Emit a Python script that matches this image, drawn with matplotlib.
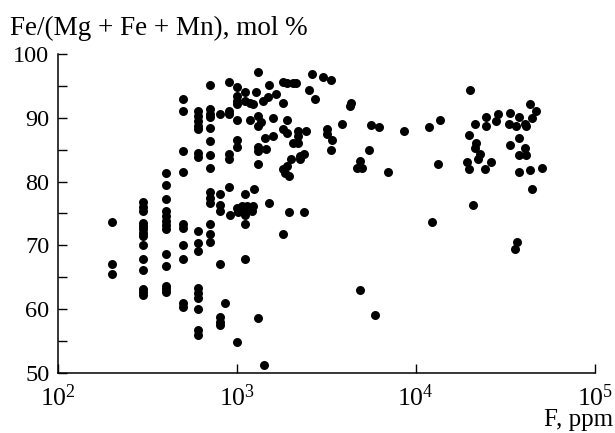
import numpy as np
import matplotlib.pyplot as plt
from matplotlib.ticker import FixedLocator, NullLocator

plt.rcParams['font.family'] = ['Liberation Serif', 'DejaVu Serif']
plt.rcParams['mathtext.fontset'] = 'custom'
plt.rcParams['mathtext.rm'] = 'Liberation Serif'

# F content (ppm) and Fe/(Mg+Fe+Mn) (mol %), grouped by F
f_ppm = np.array(
    [200] * 3 + [300] * 14 + [400] * 13 + [500] * 10 + [605] * 16 + [705] * 14 +
    [808] * 8 + [861, 900, 900, 900, 900, 900, 900, 917] + [1000] * 9 +
    [1022, 1068] + [1112] * 7 + [1140, 1186, 1186, 1214, 1229, 1240, 1256, 1282] +
    [1318] * 7 + [1370, 1407, 1419, 1432, 1450, 1500, 1521, 1521, 1600, 1600, 1656] +
    [1810] * 5 + [1858] + [1901] * 4 + [1963, 1963, 2020, 2070, 2070, 2152] +
    [2207] * 3 + [2255, 2255, 2373, 2373, 2437, 2531, 2618, 2734, 3041, 3175, 3175,
     3358, 3358, 3412, 3853, 4285, 4375, 4670, 4874, 4874, 4977, 5492, 5609, 5950,
     6215, 7018, 8577, 11830, 12390, 13300, 13750, 19330, 19830, 19830, 20000,
     20900, 21330, 21330, 21810, 22230, 22750, 24270, 24550, 24760, 26430, 28180,
     28780, 33140, 33420, 33420, 35660, 36460, 36730, 37670, 37670, 37670, 37670,
     40550, 40550, 41500, 41500, 43750, 43660, 44780, 44780, 46700, 50580])

fe_ratio = np.array(
    [73.7, 67.1, 65.5] +
    [76.8, 76.0, 75.4, 73.5, 73.0, 72.5, 71.9, 71.4, 70.1, 67.9, 66.1, 63.2, 62.7, 62.2] +
    [81.3, 79.4, 77.3, 75.4, 74.6, 73.8, 73.2, 72.5, 68.6, 66.7, 63.6, 63.1, 62.7] +
    [92.9, 91.0, 84.8, 81.5, 73.3, 72.7, 70.1, 67.9, 61.0, 60.4] +
    [91.1, 90.3, 89.5, 88.7, 88.2, 84.5, 83.8, 72.2, 70.4, 69.1, 63.3, 62.5, 61.7,
     60.0, 56.7, 55.9] +
    [95.1, 91.4, 90.6, 90.1, 88.4, 86.4, 84.2, 82.1, 78.3, 77.5, 76.7, 73.3, 71.8, 70.6] +
    [90.6, 78.0, 76.4, 75.4, 67.1, 58.8, 58.0, 57.5] +
    [60.9, 95.7, 91.1, 90.6, 84.3, 83.5, 79.1, 74.7] +
    [94.8, 93.5, 92.7, 92.2, 89.6, 86.5, 85.5, 75.9, 54.9] +
    [75.3, 76.1] +
    [94.0, 92.7, 78.0, 75.1, 73.3, 67.9, 74.8] +
    [76.1, 89.6, 92.4, 75.4, 92.2, 76.1, 78.9, 94.0] +
    [97.2, 90.3, 88.7, 85.5, 84.8, 82.7, 58.6] +
    [89.3, 92.7, 51.3, 86.9, 85.1, 93.2, 95.2, 76.7, 89.9, 87.2, 93.7] +
    [95.7, 92.4, 88.2, 81.9, 71.8] + [81.4] + [95.5, 89.6, 87.7, 82.4] +
    [80.9, 75.2, 83.5, 95.5, 86.1, 95.5] +
    [88.0, 87.2, 86.0] +
    [84.0, 83.5, 84.3, 75.2, 88.0, 94.3, 96.9, 92.9, 96.4, 88.2, 87.4,
     96.0, 84.9, 86.6, 89.1, 91.9, 92.4, 82.2, 83.2, 63.0, 82.1, 84.9, 88.9, 59.1,
     88.5, 81.5, 88.0, 88.5, 73.6, 82.7, 89.7, 83.1, 87.3, 81.9, 94.3,
     76.3, 89.1, 85.2, 86.1, 83.6, 84.3, 82.0, 90.1, 88.7, 83.1, 89.5,
     90.6, 89.1, 90.7, 85.7, 69.4, 88.7, 70.6, 90.1, 86.9, 84.1, 81.5,
     89.0, 85.2, 88.7, 84.1, 81.8, 92.2, 89.9, 78.8, 91.0, 82.1])

y_major = [50, 60, 70, 80, 90, 100]
y_minor = [55, 65, 75, 85, 95]

fig = plt.figure(figsize=(6.15, 4.33), dpi=100)
ax = fig.add_axes([0.094, 0.139, 0.873, 0.736])

ax.scatter(f_ppm, fe_ratio, s=42, color='black', linewidths=0, zorder=3)

ax.set_xscale('log')
ax.set_xlim(100, 1e5)
ax.set_ylim(50, 100)
ax.xaxis.set_minor_locator(NullLocator())
ax.yaxis.set_major_locator(FixedLocator(y_major))
ax.yaxis.set_minor_locator(FixedLocator(y_minor))

for s in ['top', 'right']:
    ax.spines[s].set_visible(False)
for s in ['left', 'bottom']:
    ax.spines[s].set_linewidth(1.1)

ax.tick_params(which='both', direction='in', length=6.5, width=1.0)
ax.tick_params(axis='y', pad=6, labelsize=17.5)
ax.tick_params(axis='x', pad=8, labelsize=18.5)

fig.text(0.017, 1 - 35 / 433, 'Fe/(Mg + Fe + Mn), mol %', fontsize=19.5, va='baseline')
fig.text(0.997, 1 - 426 / 433, 'F, ppm', fontsize=18, va='baseline', ha='right')

fig.savefig('out.png', dpi=100)
